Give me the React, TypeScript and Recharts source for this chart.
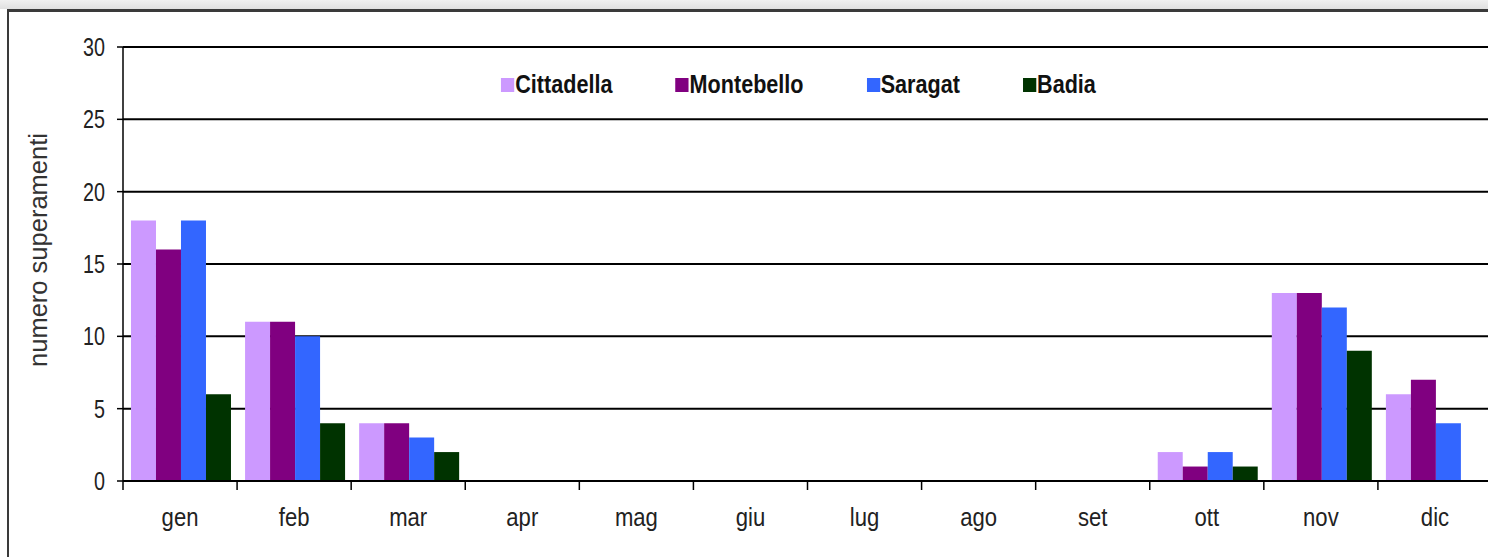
import { BarChart, Bar, XAxis, YAxis, CartesianGrid, Legend } from 'recharts';

const months = ['gen', 'feb', 'mar', 'apr', 'mag', 'giu', 'lug', 'ago', 'set', 'ott', 'nov', 'dic'];
const cittadella = [18, 11, 4, 0, 0, 0, 0, 0, 0, 2, 13, 6];
const montebello = [16, 11, 4, 0, 0, 0, 0, 0, 0, 1, 13, 7];
const saragat = [18, 10, 3, 0, 0, 0, 0, 0, 0, 2, 12, 4];
const badia = [6, 4, 2, 0, 0, 0, 0, 0, 0, 1, 9, 0];
const yTicks = [0, 5, 10, 15, 20, 25, 30];

const series = [
  { key: 'Cittadella', color: '#CC99FF' },
  { key: 'Montebello', color: '#800080' },
  { key: 'Saragat', color: '#3366FF' },
  { key: 'Badia', color: '#003300' },
];

const data = months.map((m, i) => ({
  month: m,
  Cittadella: cittadella[i],
  Montebello: montebello[i],
  Saragat: saragat[i],
  Badia: badia[i],
}));

const font = "'Liberation Sans', Arial, sans-serif";

// month label centred in the band, tick mark on the band's left edge
function MonthTick(props: any) {
  const { x, y, payload } = props;
  const half = payload?.offset ?? 0;
  return (
    <g>
      <line x1={x - half} x2={x - half} y1={y} y2={y + 9} stroke="#000" strokeWidth={1.5} />
      <text transform={`translate(${x}, ${y + 45}) scale(0.85, 1)`} textAnchor="middle" fontSize={26} fill="#222" fontFamily={font}>
        {payload.value}
      </text>
    </g>
  );
}

function ValueTick(props: any) {
  const { x, y, payload } = props;
  return (
    <text transform={`translate(${x}, ${y}) scale(0.76, 1)`} textAnchor="end" dominantBaseline="central" fontSize={26} fill="#222" fontFamily={font}>
      {payload.value}
    </text>
  );
}

// condensed look: whole row squeezed horizontally
function LegendRow() {
  return (
    <div style={{ display: 'flex', justifyContent: 'center', gap: 76, fontFamily: font, fontWeight: 'bold', fontSize: 26, color: '#111', transform: 'scaleX(0.83)', transformOrigin: 'center' }}>
      {series.map((s) => (
        <div key={s.key} style={{ display: 'flex', alignItems: 'center' }}>
          <span style={{ display: 'inline-block', width: 16, height: 14, background: s.color, marginRight: 1 }} />
          {s.key}
        </div>
      ))}
    </div>
  );
}

function YLabel(props: any) {
  const { viewBox } = props;
  const cx = viewBox.x + 38;
  const cy = viewBox.y + viewBox.height / 2 - 14;
  return (
    <text x={cx} y={cy} transform={`rotate(-90, ${cx}, ${cy})`} textAnchor="middle" dominantBaseline="central" fontSize={25.5} fill="#333" fontFamily={font}>
      numero superamenti
    </text>
  );
}

export default function App() {
  return (
    <div style={{ position: 'absolute', left: 0, top: 0, width: 1488, height: 557, overflow: 'hidden', background: '#fff' }}>
      <div style={{ position: 'absolute', left: 0, top: 0, width: 1488, height: 9, background: 'linear-gradient(#f0f0f0, #e0e0e0)' }} />
      <div style={{ position: 'absolute', left: 7, top: 9, width: 1500, height: 560, borderTop: '3px solid #3a3a3a', borderLeft: '2px solid #3a3a3a' }} />
      <div style={{ position: 'absolute', left: 0, top: 0 }}>
        <BarChart width={1502} height={557} data={data} margin={{ top: 47, right: 10, left: 0, bottom: 26 }} barCategoryGap="7%" barGap={0}>
          <CartesianGrid vertical={false} stroke="#000" strokeWidth={2} />
          <XAxis dataKey="month" height={50} tickLine={false} tickSize={0} tickMargin={0} axisLine={{ stroke: '#000', strokeWidth: 2 }} tick={<MonthTick />} interval={0} />
          <YAxis
            width={123}
            domain={[0, 30]}
            ticks={yTicks}
            interval={0}
            axisLine={{ stroke: '#000', strokeWidth: 1.5 }}
            tickLine={{ stroke: '#000', strokeWidth: 1.5 }}
            tickSize={6}
            tickMargin={12}
            tick={<ValueTick />}
            label={<YLabel />}
          />
          <Legend layout="horizontal" verticalAlign="middle" align="center" content={<LegendRow />} wrapperStyle={{ top: 69, left: 115, width: 1367 }} />
          {series.map((s) => (
            <Bar key={s.key} dataKey={s.key} fill={s.color} isAnimationActive={false} />
          ))}
        </BarChart>
      </div>
    </div>
  );
}
